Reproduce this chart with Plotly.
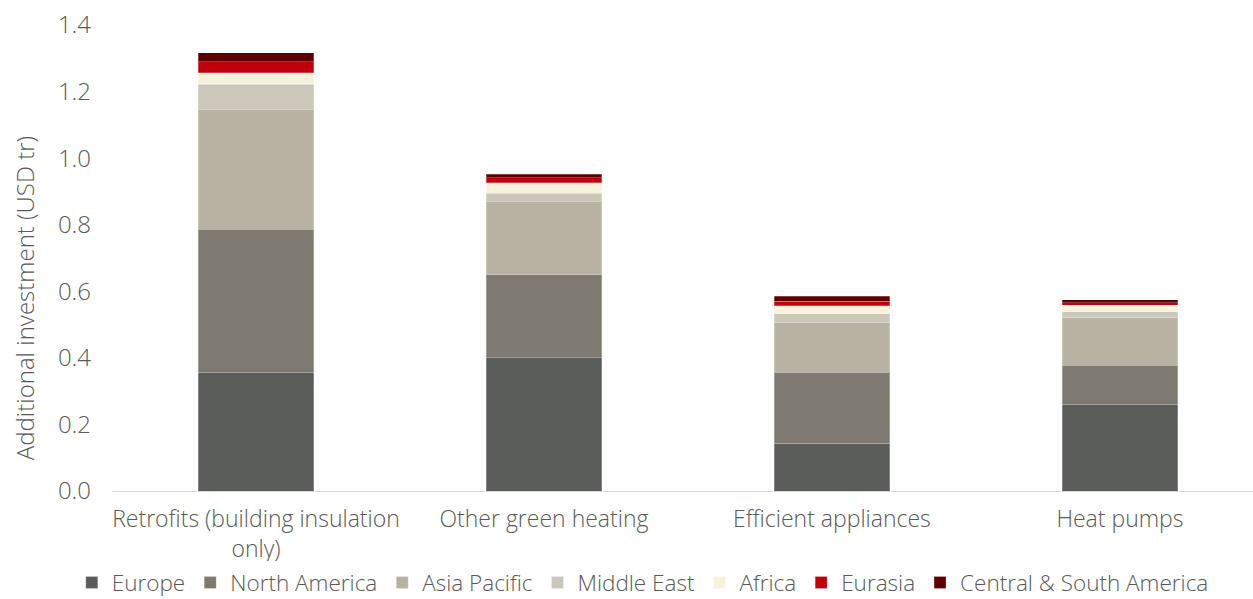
import plotly.graph_objects as go

categories = ["Retrofits (building insulation<br>only)", "Other green heating", "Efficient appliances", "Heat pumps"]
europe = [0.357, 0.400, 0.144, 0.261]
north_america = [0.430, 0.249, 0.213, 0.117]
asia_pacific = [0.360, 0.221, 0.150, 0.142]
middle_east = [0.075, 0.025, 0.025, 0.018]
africa = [0.034, 0.031, 0.024, 0.020]
eurasia = [0.033, 0.015, 0.014, 0.007]
central_south_america = [0.028, 0.011, 0.015, 0.009]
y_title = "Additional investment (USD tr)"

series = [
    ("Europe", europe, "#5b5d5b"),
    ("North America", north_america, "#7e7a71"),
    ("Asia Pacific", asia_pacific, "#b8b2a3"),
    ("Middle East", middle_east, "#cbc8bb"),
    ("Africa", africa, "#f8f2dd"),
    ("Eurasia", eurasia, "#c0000b"),
    ("Central & South America", central_south_america, "#5e0000"),
]

font_family = "Open Sans, Lato, sans-serif"
txt = "#595959"
fig = go.Figure()
for name, vals, color in series:
    fig.add_trace(go.Bar(
        x=categories, y=vals, name=name,
        marker=dict(color=color, line=dict(color="rgba(255,255,255,0.5)", width=0.5)),
        width=0.4,
    ))

fig.add_annotation(
    text=y_title, textangle=-90, showarrow=False,
    xref="paper", yref="paper", x=-0.077, y=0.414, xanchor="center", yanchor="middle",
    font=dict(size=24, color=txt, weight=300),
)

fig.update_layout(
    barmode="stack",
    width=1253, height=599,
    margin=dict(l=112, r=0, t=25, b=108, autoexpand=False),
    paper_bgcolor="white", plot_bgcolor="white",
    font=dict(family=font_family, size=22, color=txt, weight=300),
    showlegend=True,
    legend=dict(
        orientation="h", traceorder="normal",
        xref="container", yref="container",
        x=0.513, xanchor="center", y=0.027, yanchor="middle",
        font=dict(size=22.5, color=txt, weight=300),
        itemwidth=30, tracegroupgap=0,
    ),
    xaxis=dict(
        range=[-0.5, 3.462], showline=True, linecolor="#d9d9d9", linewidth=1,
        ticks="", showgrid=False, tickfont=dict(size=23, color=txt, weight=300),
        ticklabelstandoff=7,
    ),
    yaxis=dict(
        range=[0, 1.4], dtick=0.2, tickformat=".1f", showgrid=False, zeroline=False,
        showline=False, ticks="", tickfont=dict(size=24, color=txt, weight=300),
        ticklabelstandoff=20,
    ),
)

fig.write_html("out.html")
